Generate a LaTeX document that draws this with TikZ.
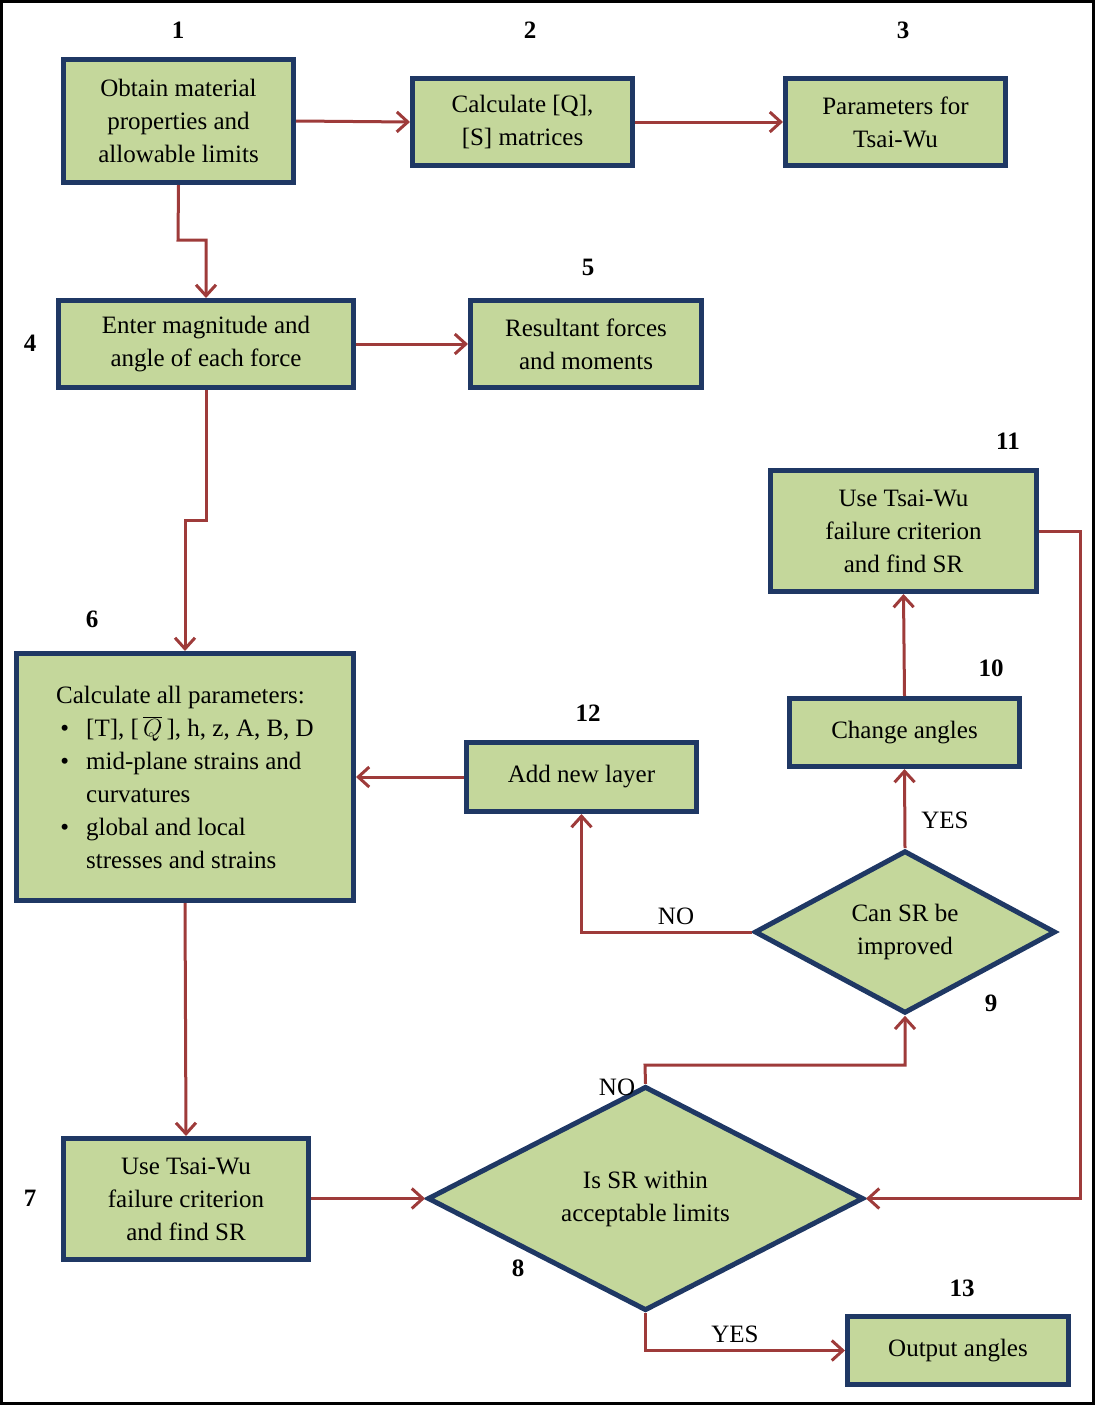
\documentclass[tikz,border=0pt]{standalone}
\usepackage{fontspec}
\setmainfont{Liberation Serif}
\usetikzlibrary{arrows.meta,shapes.geometric}
\definecolor{boxfill}{HTML}{C4D79B}
\definecolor{boxline}{HTML}{1F3864}
\definecolor{arr}{HTML}{9E3B3A}
\begin{document}
\begin{tikzpicture}[x=1pt,y=-1pt,
  box/.style={draw=boxline,line width=5pt,fill=boxfill,inner sep=0pt,align=center,font=\fontsize{25}{33}\selectfont},
  dia/.style={diamond,draw=boxline,line width=5pt,fill=boxfill,inner sep=0pt,align=center,font=\fontsize{25}{33}\selectfont},
  num/.style={font=\fontsize{25}{30}\selectfont\bfseries},
  lab/.style={font=\fontsize{25}{30}\selectfont},
  con/.style={draw=arr,line width=3pt,-{Straight Barb[length=11pt,width=20pt,line width=3pt]}}]
\draw[line width=3pt] (1.5,1.5) rectangle (1093.5,1403.5);
\node[box,minimum width=230pt,minimum height=123pt] (n1) at (178.5,121) {Obtain material\\properties and\\allowable limits};
\node[box,minimum width=220pt,minimum height=87pt] (n2) at (522.5,122) {Calculate [Q],\\{}[S] matrices};
\node[box,minimum width=220pt,minimum height=87pt] (n3) at (895.5,122) {Parameters for\\Tsai-Wu};
\node[box,minimum width=295pt,minimum height=87pt] (n4) at (206,344) {Enter magnitude and\\angle of each force};
\node[box,minimum width=231pt,minimum height=87pt] (n5) at (586,344) {Resultant forces\\and moments};
\node[box,minimum width=337pt,minimum height=247pt,align=left] (n6) at (185,777) {Calculate all parameters:\\
\makebox[30pt][l]{\,\textbullet}[T], [\,$\overline{Q}$\,], h, z, A, B, D\\
\makebox[30pt][l]{\,\textbullet}mid-plane strains and\\
\hspace*{30pt}curvatures\\
\makebox[30pt][l]{\,\textbullet}global and local\\
\hspace*{30pt}stresses and strains};
\node[box,minimum width=230pt,minimum height=69pt] (n12) at (581.5,777) {Add new layer};
\node[box,minimum width=230pt,minimum height=68pt] (n10) at (904.5,732.5) {Change angles};
\node[box,minimum width=266pt,minimum height=121pt] (n11) at (903.5,531) {Use Tsai-Wu\\failure criterion\\and find SR};
\node[box,minimum width=245pt,minimum height=121pt] (n7) at (186,1199) {Use Tsai-Wu\\failure criterion\\and find SR};
\node[dia,minimum width=436pt,minimum height=152pt] (n8) at (645.5,1198.5) {Is SR within\\acceptable limits};
\node[dia,minimum width=301pt,minimum height=151pt] (n9) at (905,932) {Can SR be\\improved};
\node[box,minimum width=221pt,minimum height=68pt] (n13) at (958,1350.5) {Output angles};
\node[num] (l1) at (178,30) {1};
\node[num] (l2) at (530,30) {2};
\node[num] (l3) at (903,30) {3};
\node[num] (l4) at (30,343) {4};
\node[num] (l5) at (588,267) {5};
\node[num] (l6) at (92,619) {6};
\node[num] (l11) at (1008,441) {11};
\node[num] (l10) at (991,668) {10};
\node[num] (l12) at (588,713) {12};
\node[num] (l9) at (991,1003) {9};
\node[num] (l7) at (30,1198) {7};
\node[num] (l8) at (518,1268) {8};
\node[num] (l13) at (962,1288) {13};
\coordinate (a1) at (178,240); \coordinate (a2) at (206,240);
\coordinate (b1) at (206,520); \coordinate (b2) at (185,520);
\coordinate (c1) at (645,1065);
\coordinate (d1) at (1080,531);
\draw[con] (n1.east) -- (n2.west);
\draw[con] (n2.east) -- (n3.west);
\draw[con] (n1.south) -- (a1) -- (a2) -- (n4.north);
\draw[con] (n4.east) -- (n5.west);
\draw[con] (n4.south) -- (b1) -- (b2) -- (n6.north);
\draw[con] (n6.south) -- (n7.north);
\draw[con] (n7.east |- n8) -- (n8.west);
\draw[con] (n8.north) -- (c1) -| (n9.south);
\node[lab] (no1) at (617,1087) {NO};
\draw[con] (n9.north) -- (n10.south);
\node[lab] (yes1) at (945,820) {YES};
\draw[con] (n9.west) -| (n12.south);
\node[lab] (no2) at (676,916) {NO};
\draw[con] (n10.north) -- (n11.south);
\draw[con] (n11.east) -- (d1) |- (n8.east);
\draw[con] (n8.south) |- (n13.west);
\node[lab] (yes2) at (735,1334) {YES};
\draw[con] (n12.west) -- (n6.east |- n12);
\end{tikzpicture}
\end{document}
